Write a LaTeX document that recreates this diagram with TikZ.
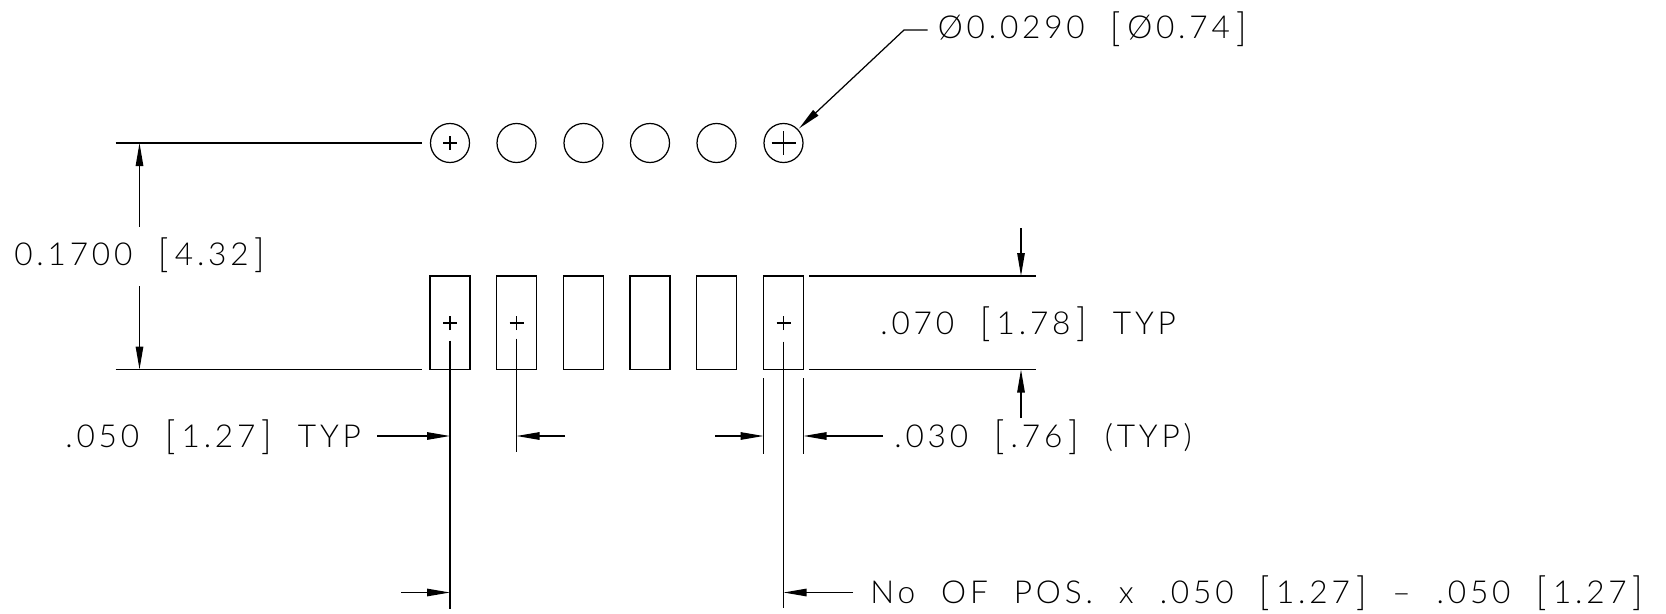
\documentclass[tikz,border=0pt]{standalone}
\usepackage{graphicx}
\usepackage{fontspec}
\setmainfont[LetterSpace=12, WordSpace=2.1]{Lato Light}
\usetikzlibrary{arrows.meta}
\newcommand{\lbrk}{\raisebox{-1.6pt}{\scalebox{1.1}[1.24]{[}}\kern3.5pt}
\newcommand{\rbrk}{\kern3.5pt\raisebox{-1.6pt}{\scalebox{1.1}[1.24]{]}}}
\tikzset{
	part/.style={line width=0.7pt},
	dimline/.style={line width=0.7pt, -{Triangle[length=0.46cm, width=0.15cm]}},
	dimtext/.style={anchor=base west, inner sep=0pt, font=\fontsize{18}{20}\selectfont}
}

\begin{document}
\begin{tikzpicture}
	\useasboundingbox (0,0) rectangle (33.32,12.26);
	\foreach \x in {9,10.33,11.67,13,14.33,15.67} {
		\draw [part] (\x,9.4) circle (0.39);
		\draw [part] (\x-0.4,4.87) rectangle (\x+0.4,6.74);
	}
	\draw [part] (8.86,9.4) -- (9.14,9.4);
	\draw [part] (9,9.26) -- (9,9.54);
	\draw [part] (15.43,9.4) -- (15.91,9.4);
	\draw [part] (15.67,9.16) -- (15.67,9.64);
	\foreach \x in {9,10.33,15.67} {
		\draw [part] (\x-0.14,5.8) -- (\x+0.14,5.8);
		\draw [part] (\x,5.66) -- (\x,5.94);
	}
	\draw [part] (2.31,9.4) -- (8.44,9.4);
	\draw [part] (2.31,4.87) -- (8.44,4.87);
	\draw [part] (16.18,6.74) -- (20.72,6.74);
	\draw [part] (16.18,4.87) -- (20.72,4.87);
	\draw [part] (9,5.45) -- (9,0.08);
	\draw [part] (10.33,5.49) -- (10.33,3.22);
	\draw [part] (15.67,5.43) -- (15.67,0.1);
	\draw [part] (15.27,4.7) -- (15.27,3.18);
	\draw [part] (16.07,4.7) -- (16.07,3.18);
	\draw [dimline] (2.79,7.73) -- (2.79,9.4);
	\draw [dimline] (2.79,6.54) -- (2.79,4.87);
	\draw [dimline] (20.42,7.7) -- (20.42,6.74);
	\draw [dimline] (20.42,3.9) -- (20.42,4.87);
	\draw [dimline] (7.54,3.54) -- (9,3.54);
	\draw [dimline] (11.3,3.54) -- (10.33,3.54);
	\draw [dimline] (14.3,3.54) -- (15.27,3.54);
	\draw [dimline] (17.66,3.54) -- (16.07,3.54);
	\draw [dimline] (8.02,0.41) -- (9,0.41);
	\draw [dimline] (17.06,0.41) -- (15.67,0.41);
	\draw [dimline] (18.55,11.66) -- (18.08,11.66) -- (15.98,9.69);
	\node [dimtext] (holedia) at (18.75,11.48) {Ø0.0290 \lbrk Ø0.74\rbrk};
	\node [dimtext] (rowgap) at (0.28,6.96) {0.1700 \lbrk 4.32\rbrk};
	\node [dimtext] (pitch) at (1.3,3.32) {.050 \lbrk 1.27\rbrk\ TYP};
	\node [dimtext] (padlen) at (17.6,5.58) {.070 \lbrk 1.78\rbrk\ TYP};
	\node [dimtext] (padwid) at (17.88,3.32) {.030 \lbrk .76\rbrk\ (TYP)};
	\node [dimtext] (span) at (17.4,0.2) {No OF POS. x .050 \lbrk 1.27\rbrk\ -- .050 \lbrk 1.27\rbrk};
\end{tikzpicture}
\end{document}
